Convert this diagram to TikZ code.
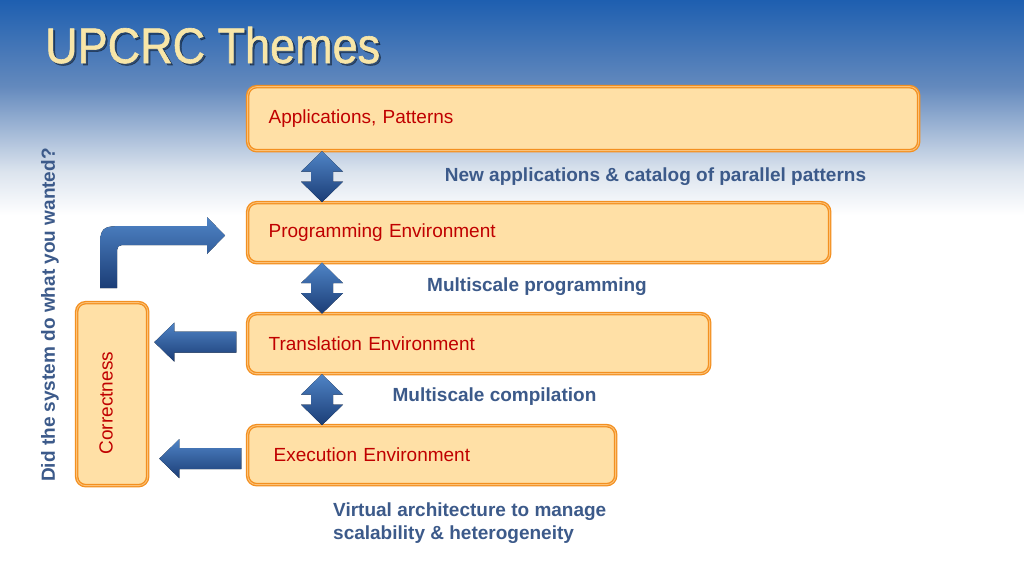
\documentclass[tikz,border=0pt]{standalone}
\usepackage{fontspec}
\setmainfont{Liberation Sans}
\newfontfamily\titlefont[FakeBold=1.2]{Liberation Sans}
\usetikzlibrary{calc}
\definecolor{boxfill}{HTML}{FFE0A6}
\definecolor{boxline}{HTML}{F39020}
\definecolor{boxinner}{HTML}{FBC27A}
\definecolor{boxtext}{HTML}{C00000}
\definecolor{labelblue}{HTML}{3C5A8A}
\definecolor{arrowlight}{HTML}{4F84C6}
\definecolor{arrowdark}{HTML}{1B3D76}
\definecolor{titlecol}{HTML}{F8E6A8}
\definecolor{bgA}{HTML}{1E5FB0}
\definecolor{bgB}{HTML}{6389BD}
\definecolor{bgC}{HTML}{DCE4EE}
\pgfdeclareverticalshading{bgsh}{100bp}{color(0bp)=(white); color(25bp)=(white); color(35bp)=(bgC); color(55bp)=(bgB); color(75bp)=(bgA); color(100bp)=(bgA)}
\begin{document}
\begin{tikzpicture}[x=1pt,y=-1pt,
  box/.style={draw=boxline, line width=1.3pt, double=boxinner, double distance=0.9pt,
    fill=boxfill, rounded corners=9pt, anchor=north west, inner xsep=21pt, inner ysep=0pt,
    text=boxtext, font=\fontsize{19}{22}\selectfont, align=left},
  lbl/.style={text=labelblue, font=\bfseries\fontsize{19}{23}\selectfont, inner sep=0pt},
  arrowshade/.style={top color=arrowlight, bottom color=arrowdark},
  dblarrow/.pic={\fill[arrowshade] (0,-25.5) -- (21,-5) -- (11,-5) -- (11,5) -- (21,5) -- (0,25.5)
      -- (-21,5) -- (-11,5) -- (-11,-5) -- (-21,-5) -- cycle;},
  leftblock/.pic={\fill[arrowshade] (0,0) -- (20,-19.5) -- (20,-10.5) -- (82,-10.5) -- (82,10.5)
      -- (20,10.5) -- (20,19.5) -- cycle;}
]
\useasboundingbox (0,0) rectangle (1024,576);
\fill[white] (0,0) rectangle (1024,576);
\shade[shading=bgsh] (0,0) rectangle (1024,215);

% title
\node[font=\titlefont\fontsize{50}{55}\selectfont, text=black, opacity=0.4, anchor=base west, xscale=0.9, inner sep=0pt] (titleshadow) at (47,65) {UPCRC Themes};
\node[font=\titlefont\fontsize{50}{55}\selectfont, text=titlecol, anchor=base west, xscale=0.9, inner sep=0pt] (title) at (45,63) {UPCRC Themes};

% boxes
\node[box, minimum width=671pt, minimum height=64pt, text width=629pt] (app) at (247,86) {Applications, Patterns};
\node[box, minimum width=582pt, minimum height=60pt, text width=540pt] (prog) at (247,202) {Programming Environment};
\node[box, minimum width=462pt, minimum height=60pt, text width=420pt] (trans) at (247,313) {Translation Environment};
\node[box, minimum width=368pt, minimum height=59pt, inner xsep=26pt, text width=316pt] (exec) at (247,425) {Execution Environment};
\node[box, minimum width=71pt, minimum height=183pt, inner xsep=0pt] (corr) at (76,302) {};
\node[text=boxtext, font=\fontsize{19}{22}\selectfont, rotate=90, inner sep=0pt] (corrtxt) at ($(corr.center)+(-6,9)$) {Correctness};

% double arrows between layers
\pic at ($(app.south west)!0.5!(prog.north west)+(75,0)$) {dblarrow};
\pic at ($(prog.south west)!0.5!(trans.north west)+(75,0)$) {dblarrow};
\pic at ($(trans.south west)!0.5!(exec.north west)+(75,0)$) {dblarrow};

% arrows into correctness
\pic at ($(corr.east |- trans.west)+(6,-1.5)$) {leftblock};
\pic at ($(corr.east |- exec.west)+(11,3.5)$) {leftblock};

% bent arrow from correctness to programming environment
\fill[arrowshade] (100,288) -- (100,254) .. controls (100,226) .. (128,226) -- (207,226) -- (207,217)
  -- (225,235.5) -- (207,254) -- (207,245) -- (128,245) .. controls (117,245) .. (117,256)
  -- (117,288) -- cycle;

% labels
\node[lbl] (l1) at (655.5,177) {New applications \& catalog of parallel patterns};
\node[lbl] (l2) at (537,287) {Multiscale programming};
\node[lbl] (l3) at (494.5,397) {Multiscale compilation};
\node[lbl, align=left, anchor=west] (l4) at (333,523.5) {Virtual architecture to manage\\scalability \& heterogeneity};
\node[lbl, rotate=90] (l5) at (50,315) {Did the system do what you wanted?};
\end{tikzpicture}
\end{document}
